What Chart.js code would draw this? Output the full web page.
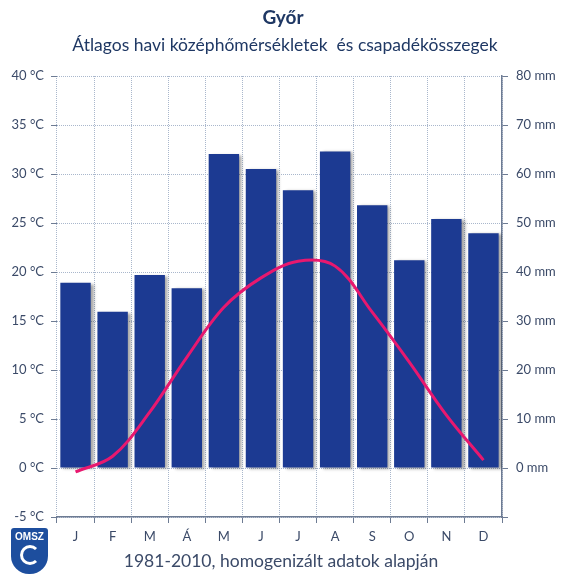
<!DOCTYPE html>
<html>
<head>
<meta charset="utf-8">
<script src="https://cdn.jsdelivr.net/npm/chart.js@4"></script>
<style>
  html, body { margin: 0; padding: 0; background: #fff; }
  #wrap { position: relative; width: 561px; height: 574px; }
  #logo {
    position: absolute; left: 11px; top: 528px; width: 37px; height: 46px;
    background: #1d4e9e; border-radius: 3px 3px 18px 18px;
    color: #fff; font: bold 10px 'Liberation Sans', sans-serif; text-align: center;
    overflow: hidden;
  }
  #logo .ring {
    position: absolute; left: 9px; top: 17px; width: 14px; height: 14px;
    border: 3px solid #fff; border-radius: 50%; border-right-color: transparent;
  }
</style>
</head>
<body>
<div id="wrap">
  <canvas id="chart" width="561" height="574"></canvas>
  <div id="logo"><div style="margin-top:3px">OMSZ</div><div class="ring"></div></div>
</div>
<script>
// Győr climate chart - monthly mean temperature and precipitation

const months = ['J', 'F', 'M', 'Á', 'M', 'J', 'J', 'A', 'S', 'O', 'N', 'D'];
const temperature = [-0.4, 1.2, 5.7, 11.3, 16.4, 19.4, 21.1, 20.6, 15.9, 10.8, 5.4, 0.8];
const precipitation = [37.8, 31.9, 39.4, 36.7, 64.1, 61.0, 56.7, 64.6, 53.6, 42.4, 50.8, 47.9];
const tempTicks = [-5, 0, 5, 10, 15, 20, 25, 30, 35, 40];
const precTicks = [0, 10, 20, 30, 40, 50, 60, 70, 80];

const titleText = 'Győr';
const subtitleText = 'Átlagos havi középhőmérsékletek  és csapadékösszegek';
const captionText = '1981-2010, homogenizált adatok alapján';

const navy = '#1f3864';
const labelColor = '#3b4a68';
const gridColor = '#a9b7cc';
const axisColor = '#6d7b93';
const fontFamily = "Lato, 'Open Sans', sans-serif";

// Soft shadow on the bars
const barShadow = {
  id: 'barShadow',
  beforeDatasetDraw(chart, args) {
    if (args.meta.type !== 'bar') return;
    const ctx = chart.ctx;
    ctx.save();
    ctx.shadowColor = 'rgba(0, 0, 0, 0.35)';
    ctx.shadowOffsetX = 3;
    ctx.shadowOffsetY = 1;
    ctx.shadowBlur = 3;
  },
  afterDatasetDraw(chart, args) {
    if (args.meta.type !== 'bar') return;
    chart.ctx.restore();
  }
};

// Title, subtitle and bottom caption
const headings = {
  id: 'headings',
  afterDraw(chart) {
    const ctx = chart.ctx;
    ctx.save();
    ctx.textAlign = 'center';
    ctx.textBaseline = 'middle';
    ctx.fillStyle = navy;
    ctx.font = `bold 19px ${fontFamily}`;
    ctx.fillText(titleText, 283, 18);
    ctx.font = `17.5px ${fontFamily}`;
    ctx.fillText(subtitleText, 285, 45);
    ctx.fillStyle = labelColor;
    ctx.font = `17.5px ${fontFamily}`;
    ctx.fillText(captionText, 281, 561);
    ctx.restore();
  }
};

new Chart(document.getElementById('chart'), {
  data: {
    labels: months,
    datasets: [
      {
        type: 'line',
        label: 'Hőmérséklet',
        data: temperature,
        yAxisID: 'y',
        borderColor: '#e8186f',
        borderWidth: 3,
        pointRadius: 0,
        tension: 0.35,
        order: 0
      },
      {
        type: 'bar',
        label: 'Csapadék',
        data: precipitation,
        yAxisID: 'y1',
        backgroundColor: '#1c3a92',
        barPercentage: 0.82,
        categoryPercentage: 1,
        order: 1
      }
    ]
  },
  options: {
    responsive: false,
    animation: false,
    layout: { padding: { top: 76, left: 0, right: 0, bottom: 0 } },
    plugins: {
      legend: { display: false },
      tooltip: { enabled: false }
    },
    scales: {
      x: {
        offset: true,
        grid: {
          offset: true,
          color: gridColor,
          tickColor: axisColor,
          tickLength: 6,
          tickBorderDash: []
        },
        border: { display: true, color: axisColor, width: 1.5, dash: [1, 1] },
        ticks: {
          color: labelColor,
          padding: 6,
          font: { size: 13, family: fontFamily }
        },
        afterFit(scale) { scale.height = 57; }
      },
      y: {
        position: 'left',
        min: -5,
        max: 40,
        afterBuildTicks(scale) { scale.ticks = tempTicks.map(v => ({ value: v })); },
        grid: {
          color: gridColor,
          tickColor: axisColor,
          tickLength: 6,
          tickBorderDash: []
        },
        border: { display: false, dash: [1, 1] },
        ticks: {
          color: labelColor,
          padding: 7,
          font: { size: 13, family: fontFamily },
          callback: v => v + ' °C'
        },
        afterFit(scale) { scale.width = 57; }
      },
      y1: {
        position: 'right',
        min: -10,
        max: 80,
        afterBuildTicks(scale) { scale.ticks = [-10].concat(precTicks).map(v => ({ value: v })); },
        grid: {
          drawOnChartArea: false,
          tickColor: axisColor,
          tickLength: 6,
          tickBorderDash: []
        },
        border: { display: true, color: axisColor, width: 1.5 },
        ticks: {
          color: labelColor,
          padding: 8,
          font: { size: 13, family: fontFamily },
          callback: v => (v < 0 ? '' : v + ' mm')
        },
        afterFit(scale) { scale.width = 59; }
      }
    }
  },
  plugins: [barShadow, headings]
});
</script>
</body>
</html>
